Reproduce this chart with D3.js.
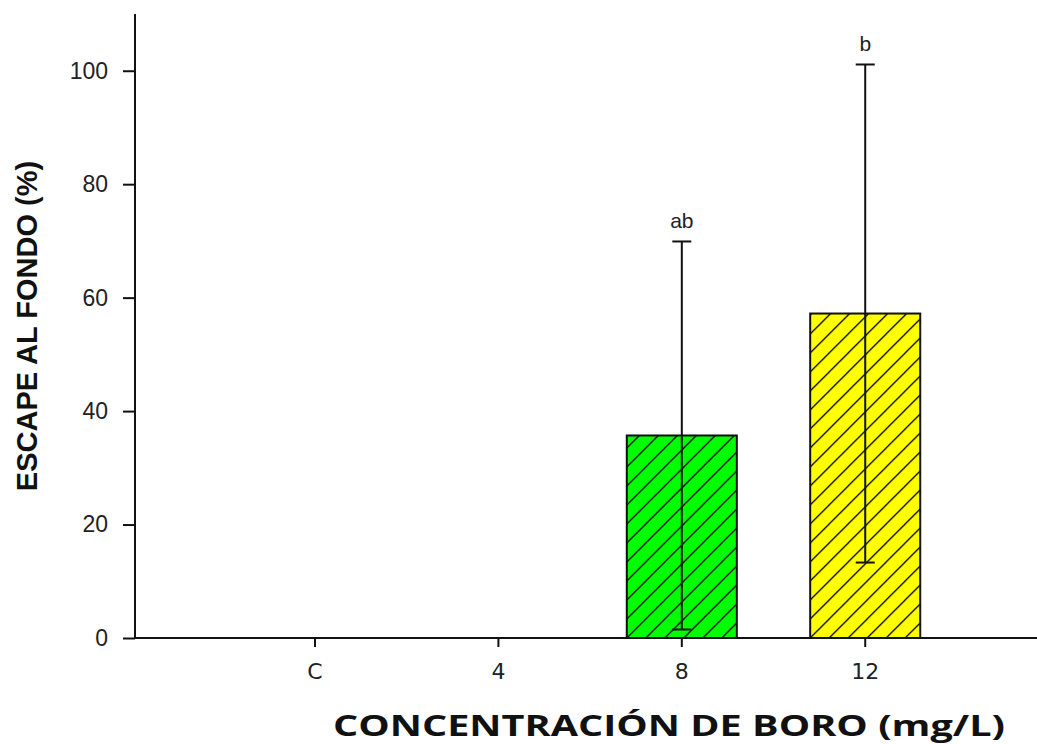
<!DOCTYPE html>
<html>
<head>
<meta charset="utf-8">
<script src="https://cdn.jsdelivr.net/npm/d3@7"></script>
<style>
  html, body { margin: 0; padding: 0; background: #fff; }
  svg { display: block; }
</style>
</head>
<body>
<svg id="chart" width="1037" height="744"></svg>
<script>
// Boron concentration treatments and escape-to-bottom percentages
const categories = ["C", "4", "8", "12"];
const means = [0, 0, 35.7, 57.2];
const errors = [0, 0, 34.2, 43.9];
const letters = ["", "", "ab", "b"];
const barColors = ["#00ff00", "#00ff00", "#00ff00", "#ffff00"];
const yTicks = [0, 20, 40, 60, 80, 100];

(function () {
const svg = d3.select("#chart");
const plotL = 135, plotR = 1037, plotT = 14, plotB = 638;

const x = d3.scaleBand()
  .domain(categories)
  .range([plotL, plotR])
  .paddingInner(0.4)
  .paddingOuter(0.659)
  .align(0.517);

const y = d3.scaleLinear().domain([0, 110]).range([plotB, plotT]);

const data = categories.map((c, i) => ({
  cat: c, mean: means[i], err: errors[i], letter: letters[i], color: barColors[i]
}));

// 45° hatch patterns anchored at each bar's lower-left corner
const defs = svg.append("defs");
const ps = 19;
data.forEach((d, i) => {
  const p = defs.append("pattern")
    .attr("id", "hatch" + i)
    .attr("patternUnits", "userSpaceOnUse")
    .attr("x", x(d.cat))
    .attr("y", y(0))
    .attr("width", ps)
    .attr("height", ps);
  p.append("rect").attr("width", ps).attr("height", ps).attr("fill", d.color);
  p.append("path")
    .attr("d", `M${-ps / 2},${ps * 1.5} L${ps * 1.5},${-ps / 2} M${-ps / 2},${ps / 2} L${ps / 2},${-ps / 2} M${ps / 2},${ps * 1.5} L${ps * 1.5},${ps / 2}`)
    .attr("stroke", "#000")
    .attr("stroke-width", 1.3)
    .attr("fill", "none");
});

// Bars
const bars = data.filter(d => d.mean > 0);
svg.append("g").selectAll("rect")
  .data(bars)
  .join("rect")
  .attr("x", d => x(d.cat))
  .attr("y", d => y(d.mean))
  .attr("width", x.bandwidth())
  .attr("height", d => y(0) - y(d.mean))
  .attr("fill", d => "url(#hatch" + categories.indexOf(d.cat) + ")")
  .attr("stroke", "#111")
  .attr("stroke-width", 2);

// Error bars
const cap = 9.5;
const eb = svg.append("g").attr("stroke", "#111").attr("stroke-width", 2);
bars.forEach(d => {
  const cx = x(d.cat) + x.bandwidth() / 2;
  eb.append("line").attr("x1", cx).attr("x2", cx)
    .attr("y1", y(d.mean - d.err)).attr("y2", y(d.mean + d.err));
  eb.append("line").attr("x1", cx - cap).attr("x2", cx + cap)
    .attr("y1", y(d.mean + d.err)).attr("y2", y(d.mean + d.err));
  eb.append("line").attr("x1", cx - cap).attr("x2", cx + cap)
    .attr("y1", y(d.mean - d.err)).attr("y2", y(d.mean - d.err));
});

// Significance letters
svg.append("g").selectAll("text")
  .data(bars)
  .join("text")
  .attr("x", d => x(d.cat) + x.bandwidth() / 2)
  .attr("y", d => y(d.mean + d.err) - 13)
  .attr("text-anchor", "middle")
  .attr("font-family", "Liberation Sans, Arial, sans-serif")
  .attr("font-size", 21)
  .attr("fill", "#222")
  .text(d => d.letter);

// Y axis
const yAxis = svg.append("g")
  .attr("transform", `translate(${plotL},0)`)
  .call(d3.axisLeft(y).tickValues(yTicks).tickSize(12).tickPadding(15).tickFormat(d3.format("d")));
yAxis.select(".domain").remove();
yAxis.selectAll(".tick line").attr("stroke", "#111").attr("stroke-width", 2);
yAxis.selectAll(".tick text")
  .attr("font-family", "Liberation Sans, Arial, sans-serif")
  .attr("font-size", 23)
  .attr("fill", "#222");
svg.append("line")
  .attr("x1", plotL).attr("x2", plotL)
  .attr("y1", plotT).attr("y2", plotB + 1)
  .attr("stroke", "#111").attr("stroke-width", 2);

// X axis
const xAxis = svg.append("g")
  .attr("transform", `translate(0,${plotB})`)
  .call(d3.axisBottom(x).tickSize(9).tickPadding(16));
xAxis.select(".domain").remove();
xAxis.selectAll(".tick line").attr("stroke", "#111").attr("stroke-width", 2);
xAxis.selectAll(".tick text")
  .attr("font-family", "DejaVu Sans, Verdana, sans-serif")
  .attr("font-size", 22)
  .attr("fill", "#222");
svg.append("line")
  .attr("x1", plotL - 1).attr("x2", plotR)
  .attr("y1", plotB).attr("y2", plotB)
  .attr("stroke", "#111").attr("stroke-width", 2);

// Axis titles
svg.append("text")
  .attr("transform", `translate(37,326) rotate(-90)`)
  .attr("text-anchor", "middle")
  .attr("font-family", "Liberation Sans, Arial, sans-serif")
  .attr("font-weight", "bold")
  .attr("font-size", 29)
  .attr("fill", "#111")
  .text("ESCAPE AL FONDO (%)");

svg.append("text")
  .attr("x", 333)
  .attr("y", 736)
  .attr("textLength", 672)
  .attr("lengthAdjust", "spacingAndGlyphs")
  .attr("font-family", "Open Sans, sans-serif")
  .attr("font-weight", "bold")
  .attr("font-size", 28)
  .attr("fill", "#111")
  .text("CONCENTRACIÓN DE BORO (mg/L)");
})();
</script>
</body>
</html>
